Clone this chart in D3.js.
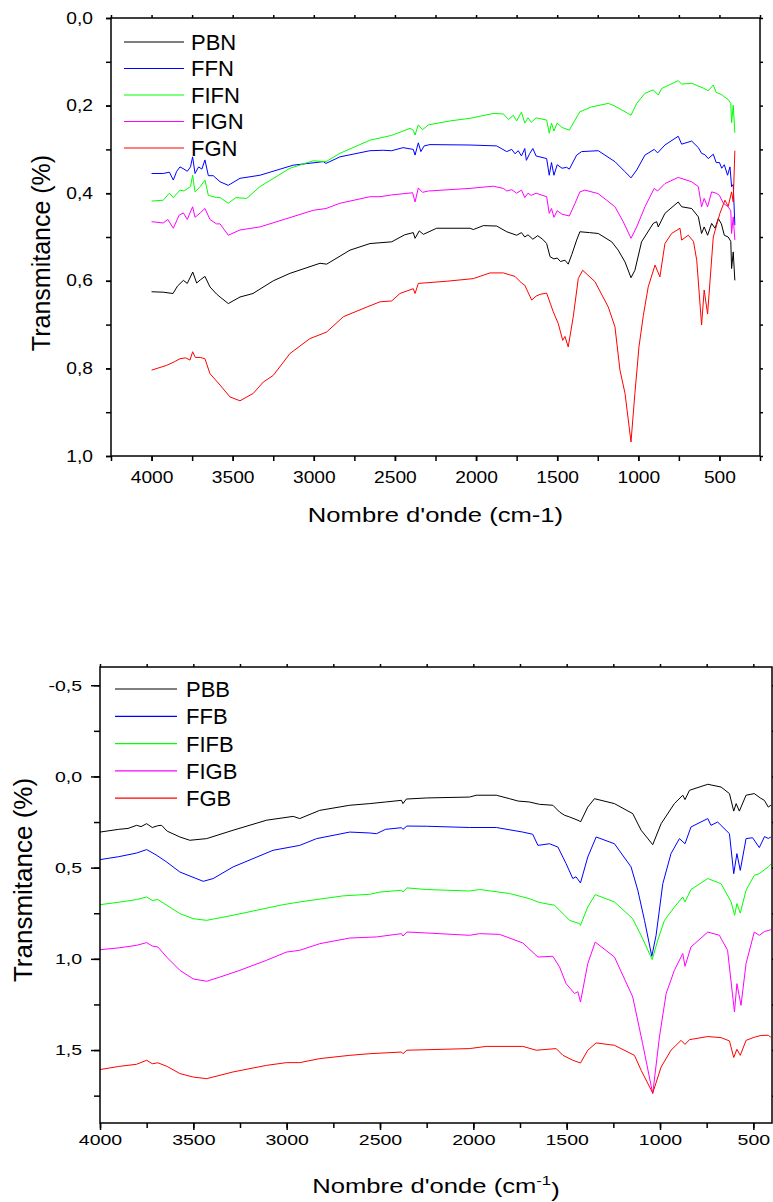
<!DOCTYPE html>
<html>
<head>
<meta charset="utf-8">
<script src="https://cdn.jsdelivr.net/npm/d3@7"></script>
<style>
  body { margin: 0; background: #fff; }
  svg { display: block; }
  text { font-family: "Liberation Sans", Arial, sans-serif; fill: #000; }
</style>
</head>
<body>
<div id="chart"></div>
<script>
// FTIR spectra, two panels (N series on top, B series below)

// series names and colours
var topNames = ["PBN", "FFN", "FIFN", "FIGN", "FGN"];
var bottomNames = ["PBB", "FFB", "FIFB", "FIGB", "FGB"];
var colors = ["#000000", "#0000ff", "#00ff00", "#ff00ff", "#ff0000"];

// tick labels
var topXLabels = [4000, 3500, 3000, 2500, 2000, 1500, 1000, 500];
var topYLabels = [0, 0.2, 0.4, 0.6, 0.8, 1.0];
var bottomXLabels = [4000, 3500, 3000, 2500, 2000, 1500, 1000, 500];
var bottomYLabels = [-0.5, 0, 0.5, 1.0, 1.5];

// [wavenumber, transmitance]
var PBN = [[4000,0.625],[3928,0.626],[3868,0.629],[3840,0.612],[3804,0.599],[3780,0.606],[3746,0.58],[3722,0.605],[3700,0.598],[3671,0.59],[3640,0.614],[3600,0.63],[3578,0.637],[3527,0.652],[3455,0.637],[3375,0.629],[3250,0.6],[3147,0.583],[2962,0.56],[2921,0.562],[2777,0.53],[2654,0.515],[2520,0.511],[2440,0.495],[2387,0.49],[2376,0.503],[2350,0.486],[2325,0.494],[2243,0.48],[2037,0.48],[2017,0.483],[1955,0.474],[1873,0.475],[1811,0.488],[1750,0.496],[1720,0.49],[1700,0.5],[1680,0.495],[1650,0.505],[1620,0.497],[1590,0.505],[1565,0.515],[1544,0.545],[1520,0.55],[1500,0.548],[1480,0.556],[1452,0.553],[1432,0.562],[1410,0.54],[1380,0.507],[1360,0.488],[1300,0.49],[1247,0.492],[1164,0.511],[1124,0.53],[1082,0.557],[1045,0.593],[1021,0.576],[980,0.511],[908,0.469],[887,0.465],[877,0.477],[836,0.446],[754,0.42],[733,0.431],[671,0.435],[630,0.454],[610,0.492],[594,0.477],[573,0.496],[548,0.469],[527,0.48],[507,0.458],[488,0.47],[470,0.496],[446,0.5],[430,0.51],[425,0.572],[415,0.534],[405,0.599]];
var FFN = [[4000,0.355],[3928,0.355],[3890,0.352],[3866,0.37],[3845,0.35],[3825,0.34],[3800,0.345],[3780,0.35],[3760,0.34],[3747,0.317],[3732,0.355],[3710,0.34],[3690,0.345],[3671,0.324],[3650,0.36],[3620,0.36],[3578,0.374],[3527,0.382],[3455,0.366],[3332,0.359],[3127,0.336],[2942,0.328],[2925,0.332],[2839,0.317],[2654,0.303],[2572,0.302],[2520,0.303],[2450,0.296],[2387,0.3],[2376,0.313],[2356,0.285],[2340,0.305],[2320,0.292],[2284,0.289],[2037,0.29],[1873,0.292],[1811,0.305],[1780,0.3],[1760,0.31],[1740,0.303],[1720,0.315],[1700,0.298],[1690,0.325],[1670,0.31],[1650,0.298],[1630,0.315],[1565,0.321],[1549,0.359],[1535,0.33],[1520,0.359],[1500,0.335],[1470,0.343],[1442,0.341],[1425,0.345],[1380,0.313],[1349,0.305],[1247,0.303],[1144,0.328],[1082,0.351],[1045,0.365],[1010,0.347],[959,0.313],[902,0.3],[881,0.308],[836,0.29],[754,0.27],[733,0.288],[671,0.281],[630,0.296],[610,0.309],[590,0.312],[569,0.321],[538,0.311],[520,0.33],[500,0.33],[486,0.343],[470,0.335],[450,0.359],[435,0.34],[425,0.385],[415,0.38],[405,0.473]];
var FIFN = [[4000,0.418],[3928,0.416],[3890,0.4],[3866,0.41],[3825,0.393],[3800,0.395],[3780,0.39],[3760,0.385],[3747,0.359],[3732,0.397],[3700,0.385],[3671,0.37],[3650,0.405],[3600,0.41],[3578,0.41],[3527,0.423],[3480,0.41],[3414,0.412],[3332,0.385],[3147,0.343],[3003,0.326],[2925,0.328],[2839,0.309],[2654,0.279],[2520,0.268],[2407,0.252],[2387,0.256],[2376,0.267],[2356,0.244],[2330,0.255],[2294,0.244],[2161,0.235],[2037,0.229],[1894,0.218],[1832,0.219],[1800,0.232],[1770,0.222],[1750,0.235],[1720,0.215],[1700,0.24],[1680,0.228],[1660,0.238],[1630,0.228],[1565,0.233],[1549,0.263],[1535,0.24],[1520,0.258],[1500,0.24],[1470,0.25],[1425,0.256],[1390,0.233],[1360,0.214],[1288,0.203],[1185,0.195],[1150,0.2],[1082,0.214],[1045,0.222],[1010,0.195],[959,0.172],[908,0.164],[877,0.176],[856,0.161],[754,0.143],[733,0.151],[671,0.149],[600,0.16],[569,0.166],[538,0.153],[520,0.17],[486,0.175],[470,0.18],[446,0.186],[430,0.195],[425,0.239],[415,0.199],[405,0.262]];
var FIGN = [[4000,0.465],[3928,0.468],[3900,0.46],[3866,0.48],[3830,0.45],[3804,0.445],[3780,0.46],[3747,0.431],[3732,0.455],[3700,0.445],[3671,0.435],[3640,0.46],[3600,0.47],[3578,0.47],[3527,0.496],[3455,0.484],[3332,0.477],[3003,0.439],[2925,0.435],[2839,0.423],[2654,0.408],[2592,0.408],[2520,0.404],[2391,0.399],[2376,0.42],[2356,0.388],[2330,0.398],[2294,0.395],[2037,0.389],[1894,0.384],[1832,0.389],[1811,0.395],[1780,0.392],[1750,0.4],[1720,0.393],[1700,0.41],[1680,0.4],[1660,0.405],[1630,0.4],[1565,0.408],[1549,0.446],[1535,0.435],[1520,0.455],[1500,0.44],[1470,0.448],[1425,0.452],[1390,0.423],[1360,0.397],[1329,0.393],[1247,0.401],[1144,0.431],[1093,0.465],[1045,0.503],[1010,0.477],[959,0.431],[902,0.389],[881,0.395],[836,0.378],[754,0.364],[671,0.374],[630,0.385],[610,0.431],[594,0.412],[573,0.431],[548,0.397],[520,0.4],[500,0.405],[476,0.423],[446,0.431],[430,0.44],[425,0.492],[415,0.454],[405,0.507]];
var FGN = [[4000,0.804],[3907,0.793],[3860,0.785],[3825,0.778],[3790,0.776],[3763,0.781],[3747,0.762],[3730,0.775],[3700,0.775],[3671,0.778],[3640,0.812],[3578,0.838],[3517,0.865],[3455,0.874],[3373,0.857],[3311,0.831],[3250,0.816],[3147,0.766],[3024,0.732],[2921,0.717],[2818,0.682],[2674,0.66],[2592,0.648],[2520,0.646],[2469,0.629],[2387,0.618],[2376,0.629],[2356,0.606],[2181,0.601],[2017,0.595],[1914,0.582],[1832,0.582],[1760,0.59],[1720,0.605],[1700,0.61],[1657,0.644],[1630,0.635],[1606,0.631],[1565,0.628],[1524,0.671],[1493,0.698],[1466,0.736],[1452,0.727],[1432,0.751],[1401,0.682],[1370,0.595],[1343,0.576],[1267,0.602],[1185,0.66],[1144,0.705],[1113,0.804],[1082,0.857],[1045,0.968],[1021,0.857],[996,0.751],[969,0.679],[939,0.614],[897,0.564],[867,0.591],[836,0.515],[795,0.492],[743,0.48],[733,0.507],[692,0.496],[660,0.51],[640,0.553],[610,0.701],[594,0.621],[573,0.676],[538,0.5],[497,0.446],[466,0.416],[446,0.43],[425,0.397],[415,0.42],[405,0.303]];

var PBB = [[4000,0.305],[3900,0.29],[3850,0.285],[3804,0.268],[3780,0.275],[3750,0.259],[3720,0.28],[3690,0.27],[3670,0.268],[3640,0.3],[3572,0.332],[3519,0.35],[3429,0.341],[3287,0.295],[3108,0.24],[2965,0.219],[2930,0.231],[2823,0.186],[2662,0.158],[2555,0.149],[2470,0.14],[2385,0.131],[2377,0.149],[2359,0.124],[2252,0.118],[2020,0.113],[1984,0.103],[1877,0.103],[1806,0.122],[1760,0.135],[1700,0.14],[1645,0.153],[1574,0.158],[1538,0.195],[1511,0.213],[1485,0.222],[1431,0.244],[1426,0.25],[1387,0.168],[1351,0.122],[1244,0.149],[1146,0.204],[1101,0.295],[1039,0.374],[994,0.259],[923,0.149],[878,0.103],[866,0.127],[842,0.076],[744,0.043],[673,0.058],[628,0.094],[605,0.19],[592,0.149],[575,0.19],[539,0.103],[495,0.094],[460,0.12],[441,0.131],[420,0.168],[406,0.158]];
var FFB = [[4000,0.456],[3900,0.44],[3804,0.42],[3750,0.401],[3700,0.43],[3643,0.469],[3572,0.524],[3447,0.575],[3394,0.56],[3287,0.496],[3073,0.405],[2930,0.378],[2840,0.341],[2662,0.305],[2555,0.31],[2519,0.314],[2470,0.29],[2385,0.281],[2377,0.29],[2356,0.272],[2252,0.273],[2020,0.28],[1877,0.28],[1735,0.305],[1682,0.317],[1654,0.378],[1592,0.369],[1547,0.387],[1503,0.478],[1467,0.56],[1450,0.55],[1426,0.584],[1387,0.442],[1342,0.332],[1244,0.369],[1155,0.496],[1119,0.624],[1083,0.789],[1044,0.986],[1021,0.871],[985,0.588],[941,0.423],[896,0.341],[866,0.369],[834,0.277],[744,0.231],[727,0.268],[691,0.25],[628,0.314],[605,0.533],[588,0.423],[570,0.515],[539,0.341],[504,0.336],[468,0.39],[440,0.33],[420,0.34],[406,0.332]];
var FIFB = [[4000,0.703],[3900,0.69],[3804,0.675],[3750,0.661],[3720,0.68],[3690,0.675],[3661,0.694],[3572,0.752],[3501,0.78],[3429,0.789],[3287,0.761],[3019,0.703],[2930,0.688],[2700,0.655],[2555,0.646],[2501,0.634],[2385,0.624],[2377,0.634],[2356,0.611],[2252,0.62],[2020,0.628],[1966,0.62],[1806,0.642],[1700,0.67],[1650,0.69],[1600,0.7],[1565,0.706],[1538,0.734],[1511,0.761],[1485,0.789],[1431,0.807],[1426,0.816],[1387,0.716],[1347,0.648],[1244,0.688],[1146,0.78],[1093,0.889],[1042,1.004],[1012,0.898],[976,0.789],[923,0.716],[878,0.661],[866,0.688],[834,0.62],[744,0.56],[673,0.588],[619,0.688],[600,0.761],[588,0.697],[570,0.749],[539,0.624],[495,0.542],[468,0.533],[420,0.496],[402,0.478]];
var FIGB = [[4000,0.95],[3900,0.94],[3804,0.926],[3750,0.911],[3720,0.93],[3690,0.935],[3643,0.99],[3572,1.063],[3501,1.11],[3429,1.123],[3358,1.1],[3251,1.063],[3108,1.008],[3001,0.963],[2930,0.953],[2823,0.917],[2662,0.886],[2519,0.88],[2385,0.862],[2377,0.875],[2356,0.853],[2252,0.858],[2020,0.871],[1966,0.862],[1859,0.866],[1735,0.913],[1654,0.99],[1574,0.986],[1538,1.045],[1503,1.136],[1458,1.19],[1440,1.18],[1426,1.237],[1387,1.026],[1347,0.908],[1244,0.99],[1146,1.209],[1093,1.465],[1039,1.739],[1003,1.428],[967,1.19],[923,1.063],[878,0.971],[866,1.041],[834,0.935],[744,0.853],[682,0.871],[638,0.953],[601,1.291],[588,1.136],[566,1.255],[539,1.026],[495,0.853],[468,0.871],[440,0.85],[420,0.845],[406,0.84]];
var FGB = [[4000,1.607],[3900,1.59],[3804,1.578],[3750,1.556],[3720,1.575],[3690,1.57],[3640,1.59],[3572,1.629],[3501,1.648],[3429,1.657],[3287,1.62],[3108,1.584],[3001,1.569],[2930,1.569],[2823,1.547],[2662,1.529],[2555,1.52],[2385,1.511],[2377,1.52],[2356,1.501],[2020,1.492],[1931,1.48],[1735,1.48],[1663,1.501],[1556,1.492],[1520,1.529],[1467,1.556],[1426,1.571],[1387,1.501],[1342,1.461],[1244,1.474],[1137,1.529],[1101,1.611],[1039,1.736],[994,1.593],[941,1.501],[887,1.447],[866,1.469],[842,1.443],[744,1.426],[673,1.432],[628,1.45],[605,1.541],[588,1.496],[570,1.529],[539,1.447],[495,1.43],[460,1.42],[420,1.419],[406,1.43]];

var svg = d3.select("#chart").append("svg")
  .attr("width", 773)
  .attr("height", 1202);

var fmt = function(d) { return d3.format(".1f")(d).replace(".", ",").replace("\u2212", "-"); };

// the source picture has its text stretched sideways
function stretch(sel, sx) {
  sel.each(function() {
    var t = d3.select(this);
    var x = +t.attr("x") || 0;
    t.attr("x", x / sx).attr("transform", `scale(${sx},1)`);
  });
}

function drawPanel(p) {
  var x = d3.scaleLinear().domain(p.xDomain).range([p.left, p.right]);
  var y = d3.scaleLinear().domain(p.yDomain).range([p.top, p.bottom]);
  var g = svg.append("g");

  // clip for the curves
  g.append("clipPath").attr("id", p.id + "-clip")
    .append("rect")
    .attr("x", p.left).attr("y", p.top)
    .attr("width", p.right - p.left).attr("height", p.bottom - p.top);

  var line = d3.line().x(d => x(d[0])).y(d => y(d[1]));
  var curves = g.append("g").attr("clip-path", "url(#" + p.id + "-clip)");
  p.series.forEach(function(s, i) {
    curves.append("path")
      .datum(s)
      .attr("fill", "none")
      .attr("stroke", colors[i])
      .attr("stroke-width", 1)
      .attr("stroke-linejoin", "round")
      .attr("d", line);
  });

  // minor ticks (unlabelled)
  g.append("g").attr("transform", `translate(0,${p.bottom})`)
    .call(d3.axisBottom(x).tickValues(p.xTicks).tickSize(p.xMinor).tickSizeOuter(0).tickFormat(""));
  g.append("g").attr("transform", `translate(${p.left},0)`)
    .call(d3.axisLeft(y).tickValues(p.yTicks).tickSize(p.yMinor).tickSizeOuter(0).tickFormat(""));

  // labelled ticks
  var xAxis = g.append("g").attr("transform", `translate(0,${p.bottom})`)
    .call(d3.axisBottom(x).tickValues(p.xLabels).tickSize(p.xMajor).tickPadding(p.xPad).tickSizeOuter(0).tickFormat(d3.format("d")));
  var yAxis = g.append("g").attr("transform", `translate(${p.left},0)`)
    .call(d3.axisLeft(y).tickValues(p.yLabels).tickSize(p.yMajor).tickPadding(p.yPad).tickSizeOuter(0).tickFormat(fmt));

  // mirrored ticks on top and right
  g.append("g").attr("transform", `translate(0,${p.top})`)
    .call(d3.axisTop(x).tickValues(p.xTicks).tickSize(3).tickSizeOuter(0).tickFormat(""));
  g.append("g").attr("transform", `translate(${p.right},0)`)
    .call(d3.axisRight(y).tickValues(p.yTicks).tickSize(3).tickSizeOuter(0).tickFormat(""));

  g.selectAll(".domain").remove();
  g.selectAll(".tick line").attr("stroke", "#000").attr("stroke-width", 1.5);
  var tickText = g.selectAll(".tick text").style("font-size", p.tickFont + "px").attr("font-family", null);
  stretch(tickText, p.tickSx);

  // frame
  g.append("rect")
    .attr("x", p.left).attr("y", p.top)
    .attr("width", p.right - p.left).attr("height", p.bottom - p.top)
    .attr("fill", "none").attr("stroke", "#000").attr("stroke-width", 1.5);

  // legend
  p.names.forEach(function(n, i) {
    var ly = p.legend.y + i * p.legend.step;
    g.append("line")
      .attr("x1", p.legend.x1).attr("x2", p.legend.x2)
      .attr("y1", ly).attr("y2", ly)
      .attr("stroke", colors[i]).attr("stroke-width", 1.2);
    g.append("text")
      .attr("x", p.legend.tx).attr("y", ly)
      .attr("dy", "0.36em")
      .style("font-size", p.legend.font + "px")
      .text(n);
  });

  // axis titles
  var xt = g.append("text")
    .attr("x", (p.left + p.right) / 2).attr("y", p.xTitleY)
    .attr("text-anchor", "middle")
    .style("font-size", p.titleFont + "px");
  xt.append("tspan").text("Nombre d'onde (cm");
  if (p.superscript) {
    xt.append("tspan").attr("dy", "-0.55em").style("font-size", (p.titleFont * 0.65) + "px").text("-1");
    xt.append("tspan").attr("dy", "0.55em").text(")");
  } else {
    xt.append("tspan").text("-1)");
  }
  stretch(xt, p.titleSx);

  g.append("text")
    .attr("transform", `translate(${p.yTitleX},${p.yTitleY}) rotate(-90)`)
    .attr("text-anchor", "middle")
    .style("font-size", p.yTitleFont + "px")
    .text("Transmitance (%)");
}

drawPanel({
  id: "top", left: 111, top: 18, right: 760, bottom: 456,
  xDomain: [4250, 250], yDomain: [0, 1],
  xTicks: d3.range(4250, 249, -250), xLabels: topXLabels,
  yTicks: d3.range(0, 1.01, 0.1), yLabels: topYLabels,
  xMajor: 5, xMinor: 5, yMajor: 5, yMinor: 5, xPad: 11, yPad: 13,
  tickFont: 16, tickSx: 1.2, titleFont: 21, titleSx: 1.22, yTitleFont: 25,
  series: [PBN, FFN, FIFN, FIGN, FGN], names: topNames,
  legend: {x1: 124, x2: 184, tx: 191, y: 42, step: 26.5, font: 22},
  xTitleY: 522, yTitleX: 50, yTitleY: 253, superscript: false
});

drawPanel({
  id: "bottom", left: 100, top: 667, right: 772, bottom: 1123,
  xDomain: [4000, 400], yDomain: [-0.6, 1.9],
  xTicks: d3.range(4000, 399, -250), xLabels: bottomXLabels,
  yTicks: d3.range(-0.5, 1.8, 0.25), yLabels: bottomYLabels,
  xMajor: 7, xMinor: 5, yMajor: 9, yMinor: 6, xPad: 4, yPad: 9,
  tickFont: 15, tickSx: 1.3, titleFont: 21, titleSx: 1.22, yTitleFont: 26,
  series: [PBB, FFB, FIFB, FIGB, FGB], names: bottomNames,
  legend: {x1: 115, x2: 177, tx: 186, y: 689, step: 27.3, font: 22},
  xTitleY: 1193, yTitleX: 32, yTitleY: 880, superscript: true
});
</script>
</body>
</html>
